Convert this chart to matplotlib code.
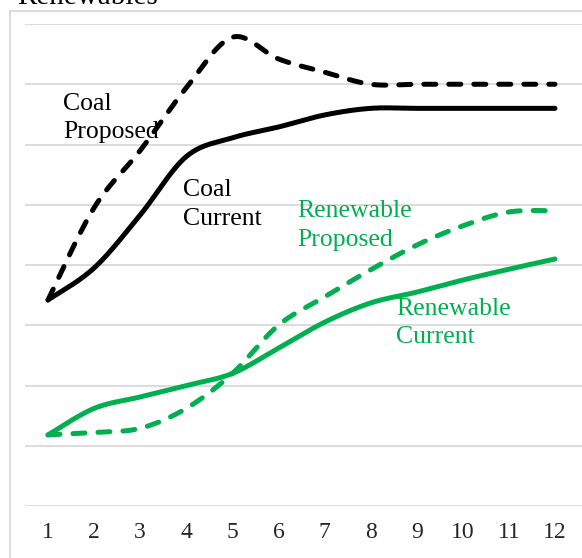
import numpy as np
import matplotlib.pyplot as plt
from matplotlib.patches import Rectangle

months = [1, 2, 3, 4, 5, 6, 7, 8, 9, 10, 11, 12]
coal_current = [3.42, 3.95, 4.83, 5.8, 6.11, 6.29, 6.49, 6.6, 6.6, 6.6, 6.6, 6.6]
coal_proposed = [3.42, 4.95, 5.9, 6.94, 7.78, 7.42, 7.2, 7.0, 7.0, 7.0, 7.0, 7.0]
renew_current = [1.18, 1.62, 1.81, 2.0, 2.2, 2.62, 3.05, 3.37, 3.55, 3.75, 3.93, 4.1]
renew_proposed = [1.18, 1.22, 1.29, 1.62, 2.2, 3.0, 3.47, 3.92, 4.33, 4.65, 4.88, 4.9]

GREEN = '#00b050'


def smooth(x, y, n=30):
    # catmull-rom, like excel's smoothed line
    x = np.asarray(x, float)
    y = np.asarray(y, float)
    px = np.concatenate([[x[0]], x, [x[-1]]])
    py = np.concatenate([[y[0]], y, [y[-1]]])
    xs, ys = [], []
    t = np.linspace(0, 1, n)
    for i in range(1, len(px) - 2):
        for p, out in ((px, xs), (py, ys)):
            p0, p1, p2, p3 = p[i - 1], p[i], p[i + 1], p[i + 2]
            c1 = p1 + (p2 - p0) / 6
            c2 = p2 - (p3 - p1) / 6
            out.extend((1 - t) ** 3 * p1 + 3 * (1 - t) ** 2 * t * c1
                       + 3 * (1 - t) * t ** 2 * c2 + t ** 3 * p2)
    return xs, ys


plt.rcParams['font.family'] = 'Liberation Serif'

fig = plt.figure(figsize=(5.82, 5.58), dpi=100)
W, H = 582, 558
ax = fig.add_axes([25 / W, 52 / H, 1 - 25 / W, (506 - 24) / H])

# chart border (cropped)
fig.patches.append(Rectangle((10.5 / W, -0.1), 1.2, 1.1 - 11 / H,
                             transform=fig.transFigure, fill=False,
                             edgecolor='#d9d9d9', lw=1.3))
fig.text(17 / W, 1 - 4 / H, 'Renewables', fontsize=21, va='baseline', ha='left')

lw = 3.6
dash = (0, (2.4, 2.6))
ax.plot(*smooth(months, coal_proposed), color='black', lw=lw, ls=dash,
        dash_capstyle='round', clip_on=False)
ax.plot(*smooth(months, coal_current), color='black', lw=lw,
        solid_capstyle='round', clip_on=False)
ax.plot(*smooth(months, renew_proposed), color=GREEN, lw=lw, ls=dash,
        dash_capstyle='round', clip_on=False)
ax.plot(*smooth(months, renew_current), color=GREEN, lw=lw,
        solid_capstyle='round', clip_on=False)

lbl = dict(fontsize=18.5, va='top', ha='left', linespacing=1.4)
ax.text(1.325, 6.86, 'Coal\nProposed', **lbl)
ax.text(3.93, 5.43, 'Coal\nCurrent', **lbl)
ax.text(6.40, 5.08, 'Renewable\nProposed', color=GREEN, **lbl)
ax.text(8.55, 3.46, 'Renewable\nCurrent', color=GREEN, **lbl)

ax.set_xlim(1 - 23 / 46.09, 1 + (582 - 48) / 46.09)
ax.set_ylim(0, 8)
ax.set_xticks(months)
ax.set_yticks(range(9))
ax.set_yticklabels([])
ax.tick_params(length=0, pad=11.5, labelsize=17, labelcolor='#262626')
ax.grid(axis='y', color='#d9d9d9', lw=1.3)
ax.set_axisbelow(True)
for s in ax.spines.values():
    s.set_visible(False)

plt.savefig('out.png', dpi=100)
